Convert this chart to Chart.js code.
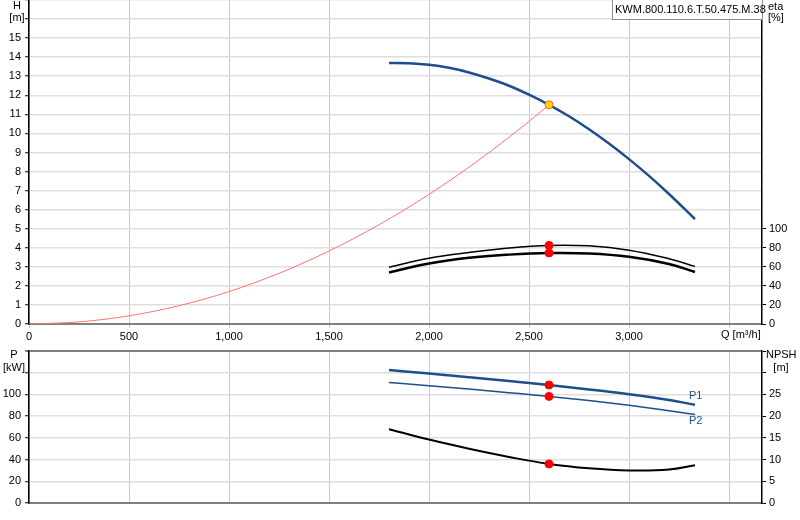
<!DOCTYPE html>
<html>
<head>
<meta charset="utf-8">
<script src="https://cdn.jsdelivr.net/npm/chart.js@4.4.1/dist/chart.umd.min.js"></script>
<style>
  body { margin: 0; background: #fff; }
  #wrap { position: relative; width: 800px; height: 520px; overflow: hidden; font: 11px Arial, "Liberation Sans", sans-serif; color: #000; }
  canvas { position: absolute; left: 0; }
  .lbl { position: absolute; white-space: nowrap; line-height: 11px; }
  .c { text-align: center; }
  #typebox { position: absolute; left: 612px; top: -1px; width: 147px; height: 19px; line-height: 19px;
             border: 1px solid #8c8c8c; background: #fff; padding-left: 2px; white-space: nowrap; z-index: 2; }
</style>
</head>
<body>
<div id="wrap">
  <canvas id="top" width="800" height="345" style="top:0"></canvas>
  <canvas id="bottom" width="800" height="175" style="top:345px"></canvas>

  <div id="typebox">KWM.800.110.6.T.50.475.M.38</div>

  <div class="lbl c" style="left:7px;top:0;width:20px">H</div>
  <div class="lbl c" style="left:7px;top:12px;width:20px">[m]</div>
  <div class="lbl" style="left:768px;top:1px">eta</div>
  <div class="lbl" style="left:768px;top:12px">[%]</div>
  <div class="lbl" style="left:721px;top:329px">Q [m³/h]</div>

  <div class="lbl c" style="left:3px;top:349px;width:22px">P</div>
  <div class="lbl c" style="left:2px;top:362px;width:24px">[kW]</div>
  <div class="lbl c" style="left:766px;top:349px;width:30px">NPSH</div>
  <div class="lbl c" style="left:766px;top:362px;width:30px">[m]</div>
  <div class="lbl" style="left:689px;top:390px;color:#1c4f8c">P1</div>
  <div class="lbl" style="left:689px;top:415px;color:#1c4f8c">P2</div>
</div>

<script>
// === Data ===
const qPump = [1800, 1900, 2000, 2100, 2200, 2300, 2400, 2500, 2600, 2700, 2800, 2900, 3000, 3100, 3200, 3330];
const headPump = [13.70, 13.68, 13.60, 13.44, 13.20, 12.88, 12.50, 12.03, 11.50, 10.90, 10.22, 9.47, 8.65, 7.77, 6.82, 5.50];

const qSystem = [0, 250, 500, 750, 1000, 1250, 1500, 1750, 2000, 2250, 2500, 2600];
const headSystem = [0, 0.11, 0.43, 0.96, 1.70, 2.66, 3.83, 5.21, 6.80, 8.61, 10.63, 11.5];

const qCurve = [1800, 2000, 2200, 2400, 2600, 2800, 3000, 3200, 3330];
const etaHydraulic = [59.5, 69, 75, 79.8, 82.5, 82, 77.5, 68.5, 60.5];
const etaTotal = [54, 63.5, 69.5, 72.8, 74.5, 74, 70.5, 63, 54.5];
const powerP1 = [122.4, 119.2, 115.8, 112.3, 108.6, 104.6, 100.2, 94.9, 90.5];
const powerP2 = [111, 108.1, 104.9, 101.6, 98.2, 94.3, 90, 85, 81.6];
const npsh = [17.0, 14.6, 12.5, 10.6, 9.0, 8.0, 7.5, 7.7, 8.7];

// duty point
const dutyQ = 2600;
const dutyH = 11.5;
const dutyEta = [82.5, 74.5];
const dutyP = [108.6, 98.2];
const dutyNpsh = 9.0;

const qTicks = [0, 500, 1000, 1500, 2000, 2500, 3000, 3500];
const qMax = 3665;

const pts = (xs, ys) => xs.map((x, i) => ({ x, y: ys[i] }));
const FONT = { family: 'Arial, "Liberation Sans", sans-serif', size: 11 };
const BLUE = '#1c4f8c';

function line(data, color, width, axis, smooth) {
  const ds = { data, borderColor: color, borderWidth: width, pointRadius: 0, yAxisID: axis, fill: false };
  if (smooth) ds.tension = 0.4; else ds.cubicInterpolationMode = 'monotone';
  return ds;
}
function dot(x, y, axis, fillColor, edge) {
  return { data: [{ x, y }], showLine: false, pointRadius: 4, pointBackgroundColor: fillColor,
           pointBorderColor: edge, pointBorderWidth: 1, yAxisID: axis };
}

const fixQ = (h) => (s) => { s.height = h; s.paddingLeft = 0; s.paddingRight = 0; };
const fixY = (w) => (s) => { s.width = w; s.paddingTop = 0; s.paddingBottom = 0; };
const keepQTicks = (s) => { s.ticks = qTicks.map(v => ({ value: v })); };

// === Top chart: head + efficiency ===
new Chart(document.getElementById('top'), {
  type: 'line',
  data: {
    datasets: [
      dot(dutyQ, dutyH, 'y', '#ffd21f', '#ff6a00'),
      dot(dutyQ, dutyEta[0], 'eta', '#ff0000', '#ff0000'),
      dot(dutyQ, dutyEta[1], 'eta', '#ff0000', '#ff0000'),
      line(pts(qPump, headPump), BLUE, 2.5, 'y'),
      line(pts(qSystem, headSystem), '#ff7272', 1, 'y'),
      line(pts(qCurve, etaHydraulic), '#000', 1.5, 'eta', true),
      line(pts(qCurve, etaTotal), '#000', 2.5, 'eta', true)
    ]
  },
  options: {
    responsive: false,
    animation: false,
    layout: { autoPadding: false, padding: 0 },
    plugins: { legend: { display: false }, tooltip: { enabled: false } },
    scales: {
      x: {
        type: 'linear', min: 0, max: qMax,
        afterBuildTicks: keepQTicks, afterFit: fixQ(21),
        ticks: { font: FONT, color: '#000', padding: 2, maxRotation: 0, autoSkip: false,
                 callback: v => v === 3500 ? '' : v.toLocaleString('en-US') },
        grid: { color: '#c8c8c8', lineWidth: 1, tickLength: 4 },
        border: { color: '#808080', width: 2 }
      },
      y: {
        position: 'left', min: 0, max: 17,
        afterFit: fixY(29),
        ticks: { stepSize: 1, font: FONT, color: '#000', padding: 4, callback: v => v <= 15 ? v : '' },
        grid: { color: '#dedede', lineWidth: 1.5, tickLength: 4, tickColor: '#000', tickWidth: 1 },
        border: { color: '#000', width: 1.5 }
      },
      eta: {
        position: 'right', min: 0, max: 340,
        afterBuildTicks: s => { s.ticks = s.ticks.filter(t => t.value <= 100); },
        afterFit: fixY(38),
        ticks: { stepSize: 20, font: FONT, color: '#000', padding: 3 },
        grid: { drawOnChartArea: false, tickLength: 4, tickColor: '#000', tickWidth: 1 },
        border: { color: '#000', width: 1.5 }
      }
    }
  }
});

// === Bottom chart: power + NPSH ===
new Chart(document.getElementById('bottom'), {
  type: 'line',
  data: {
    datasets: [
      dot(dutyQ, dutyP[0], 'p', '#ff0000', '#ff0000'),
      dot(dutyQ, dutyP[1], 'p', '#ff0000', '#ff0000'),
      dot(dutyQ, dutyNpsh, 'npsh', '#ff0000', '#ff0000'),
      line(pts(qCurve, powerP1), BLUE, 2.5, 'p'),
      line(pts(qCurve, powerP2), BLUE, 1.5, 'p'),
      line(pts(qCurve, npsh), '#000', 2, 'npsh', true)
    ]
  },
  options: {
    responsive: false,
    animation: false,
    layout: { autoPadding: false, padding: { left: 0, right: 0, top: 6, bottom: 0 } },
    plugins: { legend: { display: false }, tooltip: { enabled: false } },
    scales: {
      x: {
        type: 'linear', min: 0, max: qMax,
        afterBuildTicks: keepQTicks, afterFit: fixQ(17),
        ticks: { display: false },
        grid: { color: '#c8c8c8', lineWidth: 1, drawTicks: false },
        border: { color: '#808080', width: 2 }
      },
      p: {
        position: 'left', min: 0, max: 140,
        afterFit: fixY(29),
        ticks: { stepSize: 20, font: FONT, color: '#000', padding: 4, callback: v => v <= 100 ? v : '' },
        grid: {
          color: c => c.tick && c.tick.value === 140 ? '#808080' : '#dedede',
          lineWidth: c => c.tick && c.tick.value === 140 ? 2 : 1.5,
          tickLength: 4, tickColor: '#000', tickWidth: 1
        },
        border: { color: '#000', width: 1.5 }
      },
      npsh: {
        position: 'right', min: 0, max: 35,
        afterFit: fixY(38),
        ticks: { stepSize: 5, font: FONT, color: '#000', padding: 3, callback: v => v <= 25 ? v : '' },
        grid: { drawOnChartArea: false, tickLength: 4, tickColor: '#000', tickWidth: 1 },
        border: { color: '#000', width: 1.5 }
      }
    }
  }
});
</script>
</body>
</html>
